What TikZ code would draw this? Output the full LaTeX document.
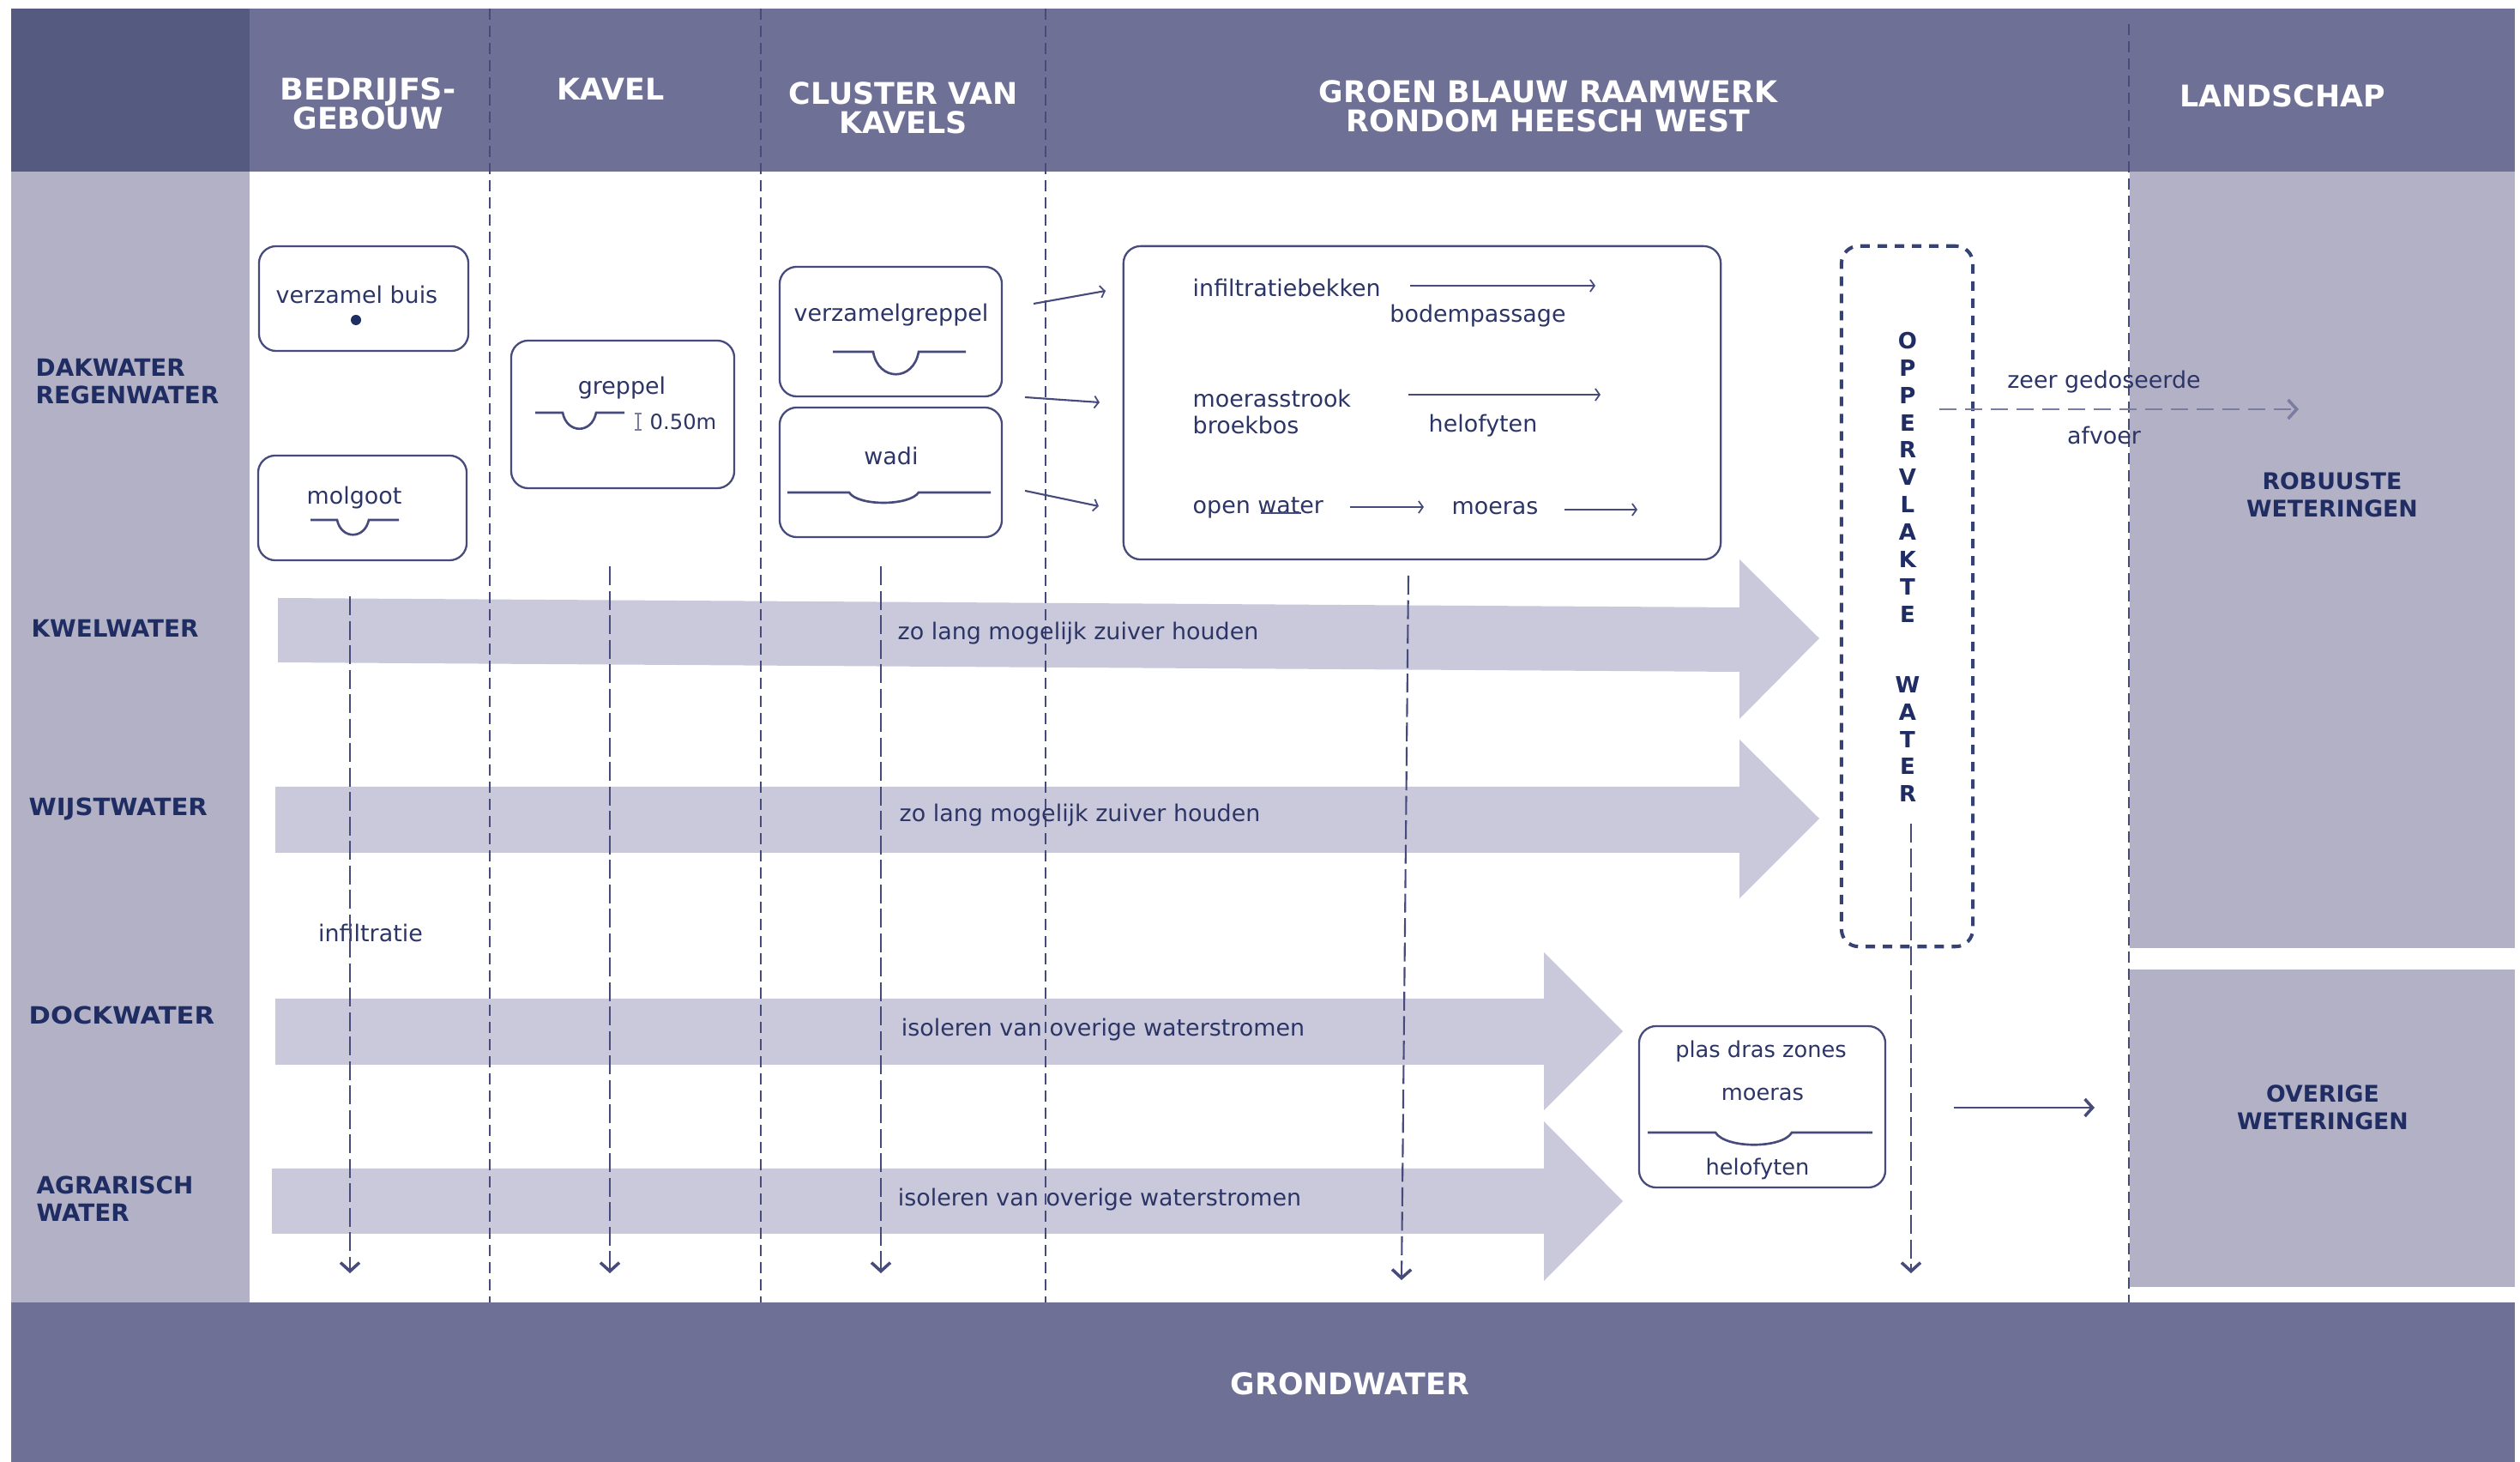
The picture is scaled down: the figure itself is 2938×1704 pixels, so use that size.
\documentclass[tikz,border=0pt]{standalone}
\usepackage{graphicx}
\usepackage{fontspec}
\setmainfont{DejaVu Sans}
\usetikzlibrary{arrows.meta}
\definecolor{hdrc}{HTML}{6E7096}
\definecolor{corner}{HTML}{555B80}
\definecolor{sidec}{HTML}{B3B1C6}
\definecolor{bandc}{HTML}{C9C9DB}
\definecolor{navy}{HTML}{1F2D63}
\definecolor{bodyc}{HTML}{2C3566}
\definecolor{linec}{HTML}{464B7C}
\definecolor{softline}{HTML}{7A7CA0}
\tikzset{
  txt/.style={inner sep=0pt,text=bodyc,font=\fontsize{7.65}{9}\selectfont},
  rowlab/.style={inner sep=0pt,text=navy,anchor=west,align=left,font=\fontsize{7.9}{9.1}\selectfont\bfseries},
  sidelab/.style={inner sep=0pt,text=navy,align=center,font=\fontsize{7.6}{9.1}\selectfont\bfseries},
  hdr/.style={inner sep=0pt,text=white,align=center,font=\fontsize{9.9}{9.5}\selectfont\bfseries},
  roundbox/.style={draw=linec,line width=0.65pt,rounded corners=0.2cm,fill=white,inner sep=0pt},
  divider/.style={draw=linec,line width=0.65pt,dash pattern=on 0.13cm off 0.07cm},
  dropline/.style={draw=linec,line width=0.6pt,dash pattern=on 0.22cm off 0.065cm},
  drophead/.style={-{Straight Barb[length=0.1cm,width=0.22cm,line width=1pt]}},
  thin arrow/.style={draw=linec,line width=0.6pt,-{Straight Barb[length=0.05cm,width=0.14cm,line width=0.5pt]}},
  long arrow/.style={draw=linec,line width=0.65pt,-{Straight Barb[length=0.09cm,width=0.2cm,line width=1pt]}},
  channel/.style={draw=linec,line width=0.75pt},
}
\begin{document}
\begin{tikzpicture}[x=0.01cm,y=-0.01cm]
\useasboundingbox (0,0) rectangle (2938,1704);
\fill[white] (0,0) rectangle (2938,1704);
% bands of the table
\fill[hdrc] (13,10) rectangle (2932,200);
\fill[corner] (13,10) rectangle (291,200);
\fill[sidec] (13,200) rectangle (291,1518);
\fill[sidec] (2483,200) rectangle (2932,1105);
\fill[sidec] (2483,1130) rectangle (2932,1500);
\fill[hdrc] (13,1518) rectangle (2932,1704);
% broad arrows
\fill[bandc] (324,697) -- (2028,708) -- (2028,652) -- (2121,744) -- (2028,838) -- (2028,783) -- (324,772) -- cycle;
\fill[bandc] (321,917) -- (2028,917) -- (2028,862) -- (2121,954) -- (2028,1047) -- (2028,994) -- (321,994) -- cycle;
\fill[bandc] (321,1164) -- (1800,1164) -- (1800,1110) -- (1892,1202) -- (1800,1294) -- (1800,1241) -- (321,1241) -- cycle;
\fill[bandc] (317,1362) -- (1800,1362) -- (1800,1307) -- (1892,1400) -- (1800,1493) -- (1800,1438) -- (317,1438) -- cycle;
% column dividers
\coordinate (d1a) at (571,10);  \coordinate (d1b) at (571,1518);
\coordinate (d2a) at (887,10);  \coordinate (d2b) at (887,1518);
\coordinate (d3a) at (1219,10); \coordinate (d3b) at (1219,1518);
\coordinate (d4a) at (2482,28); \coordinate (d4b) at (2482,1518);
\draw[divider] (d1a) -- (d1b);
\draw[divider] (d2a) -- (d2b);
\draw[divider] (d3a) -- (d3b);
\draw[divider] (d4a) -- (d4b);
% headers
\node[hdr] (h1) at (429,121) {\scalebox{1.05}[1]{BEDRIJFS-}\\GEBOUW};
\node[hdr] (h2) at (712,104) {KAVEL};
\node[hdr] (h3) at (1053,126) {CLUSTER VAN\\KAVELS};
\node[hdr] (h4) at (1805,124) {GROEN BLAUW RAAMWERK\\RONDOM HEESCH WEST};
\node[hdr] (h5) at (2661,112) {LANDSCHAP};
\node[hdr] (h6) at (1574,1613) {GRONDWATER};
% row labels
\node[rowlab] (r1) at (41,445) {DAKWATER\\REGENWATER};
\node[rowlab] (r2) at (36,732) {KWELWATER};
\node[rowlab] (r3) at (33,943) {\scalebox{1.05}[1]{WIJSTWATER}};
\node[rowlab] (r4) at (33,1183) {\scalebox{1.1}[1]{DOCKWATER}};
\node[rowlab] (r5) at (42,1397) {AGRARISCH\\WATER};
\node[sidelab] (s1) at (2719,577) {ROBUUSTE\\WETERINGEN};
\node[sidelab] (s2) at (2708,1291) {OVERIGE\\WETERINGEN};
% boxes
\node[roundbox,minimum width=2.44cm,minimum height=1.22cm] (b1) at (424,348) {};
\node[roundbox,minimum width=2.43cm,minimum height=1.22cm] (b2) at (422.5,592) {};
\node[roundbox,minimum width=2.6cm,minimum height=1.72cm] (b3) at (726,483) {};
\node[roundbox,minimum width=2.59cm,minimum height=1.51cm] (b4) at (1038.5,386.5) {};
\node[roundbox,minimum width=2.59cm,minimum height=1.51cm] (b5) at (1038.5,550.5) {};
\node[roundbox,minimum width=6.96cm,minimum height=3.65cm] (b6) at (1658,469.5) {};
\node[roundbox,minimum width=2.87cm,minimum height=1.88cm] (b7) at (2054.5,1290) {};
\node[draw=navy!90!white,line width=1.15pt,rounded corners=0.2cm,dash pattern=on 0.11cm off 0.09cm,inner sep=0pt,minimum width=1.53cm,minimum height=8.16cm] (b8) at (2223.5,695) {};
% box contents
\node[txt] (t1) at (416,343) {verzamel buis};
\node[circle,fill=navy,inner sep=0pt,minimum size=0.12cm] (dot) at (415,373) {};
\node[txt] (t2) at (413,580) {molgoot};
\draw[channel] (362,606) -- (393,606) .. controls (398,629) and (425,629) .. (430,606) -- (465,606);
\node[txt] (t3) at (725,452) {greppel};
\draw[channel] (624,481) -- (656,481) .. controls (661,506) and (690,506) .. (695,481) -- (728,481);
\draw[draw=softline,line width=0.5pt] (744,482) -- (744,501) (740,482) -- (748,482) (740,501) -- (748,501);
\node[txt,anchor=west,font=\fontsize{6.9}{9}\selectfont] (t4) at (757,492) {0.50m};
\node[txt] (t5) at (1039,367) {verzamelgreppel};
\draw[channel] (971,410) -- (1018,410) .. controls (1024,445) and (1065,445) .. (1071,410) -- (1126,410);
\node[txt] (t6) at (1039,531) {wadi};
\draw[channel] (918,574) -- (990,574) .. controls (1000,590) and (1060,590) .. (1071,574) -- (1155,574);
\node[txt,anchor=west] (t7) at (1390,335) {infiltratiebekken};
\node[txt] (t8) at (1723,368) {bodempassage};
\node[txt,anchor=west] (t9) at (1390,464) {moerasstrook};
\node[txt,anchor=west] (t10) at (1390,495) {broekbos};
\node[txt] (t11) at (1729,496) {helofyten};
\node[txt,anchor=west] (t12) at (1390,592) {open water};
\node[txt,anchor=west] (t13) at (1692,592) {moeras};
\coordinate (w1) at (1470,598); \coordinate (w2) at (1517,598);
\draw[draw=linec,line width=0.6pt] (w1) -- (w2);
\coordinate (a1s) at (1644,333); \coordinate (a1e) at (1860,333);
\coordinate (a2s) at (1642,460); \coordinate (a2e) at (1866,460);
\coordinate (a3s) at (1574,591); \coordinate (a3e) at (1660,591);
\coordinate (a4s) at (1824,594); \coordinate (a4e) at (1909,594);
\draw[thin arrow] (a1s) -- (a1e);
\draw[thin arrow] (a2s) -- (a2e);
\draw[thin arrow] (a3s) -- (a3e);
\draw[thin arrow] (a4s) -- (a4e);
\coordinate (c1s) at (1205,354); \coordinate (c1e) at (1289,339);
\coordinate (c2s) at (1195,463); \coordinate (c2e) at (1282,469);
\coordinate (c3s) at (1195,572); \coordinate (c3e) at (1281,590);
\draw[thin arrow] (c1s) -- (c1e);
\draw[thin arrow] (c2s) -- (c2e);
\draw[thin arrow] (c3s) -- (c3e);
\node[txt,font=\fontsize{7.3}{9}\selectfont] (t14) at (2053,1225) {plas dras zones};
\node[txt,font=\fontsize{7.3}{9}\selectfont] (t15) at (2055,1275) {moeras};
\draw[channel] (1921,1320) -- (2000,1320) .. controls (2012,1339) and (2078,1339) .. (2089,1320) -- (2183,1320);
\node[txt,font=\fontsize{7.3}{9}\selectfont] (t16) at (2049,1362) {helofyten};
% surface water column text
\node[inner sep=0pt,text=navy,align=center,font=\fontsize{7.4}{9.07}\selectfont\bfseries] (opp) at (2224,661)
  {O\\P\\P\\E\\R\\V\\L\\A\\K\\T\\E\\[0.5cm]W\\A\\T\\E\\R};
% band labels
\node[txt] (z1) at (1257,738) {zo lang mogelijk zuiver houden};
\node[txt] (z2) at (1259,950) {zo lang mogelijk zuiver houden};
\node[txt] (z3) at (1286,1200) {isoleren van overige waterstromen};
\node[txt] (z4) at (1282,1398) {isoleren van overige waterstromen};
\node[txt] (z5) at (432,1087) {infiltratie};
\node[txt] (z6) at (2453,445) {zeer gedoseerde};
\node[txt] (z7) at (2453,507) {afvoer};
% drop lines
\coordinate (e1s) at (408,695);  \coordinate (e1e) at (408,1484);
\coordinate (e2s) at (711,660);  \coordinate (e2e) at (711,1484);
\coordinate (e3s) at (1027,660); \coordinate (e3e) at (1027,1484);
\coordinate (e4s) at (1642,671); \coordinate (e4e) at (1634,1492);
\coordinate (e5s) at (2228,960); \coordinate (e5e) at (2228,1484);
\draw[dropline,drophead] (e1s) -- (e1e);
\draw[dropline,drophead] (e2s) -- (e2e);
\draw[dropline,drophead] (e3s) -- (e3e);
\draw[dropline,drophead] (e4s) -- (e4e);
\draw[dropline,drophead] (e5s) -- (e5e);
\coordinate (f1s) at (2261,477); \coordinate (f1e) at (2680,477);
\draw[draw=softline,line width=0.8pt,dash pattern=on 0.2cm off 0.1cm,-{Straight Barb[length=0.1cm,width=0.22cm,line width=1pt]}] (f1s) -- (f1e);
\coordinate (f2s) at (2278,1291); \coordinate (f2e) at (2442,1291);
\draw[long arrow] (f2s) -- (f2e);
\end{tikzpicture}
\end{document}
